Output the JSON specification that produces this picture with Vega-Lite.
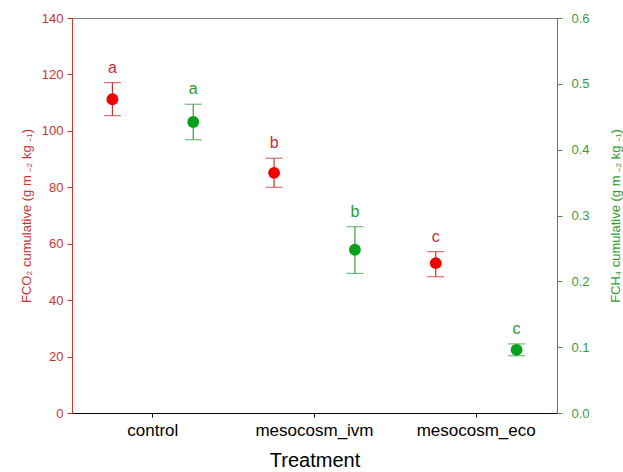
{
  "$schema": "https://vega.github.io/schema/vega-lite/v6.json",
  "width": 485,
  "height": 395,
  "autosize": {"type": "none"},
  "padding": {"left": 72, "top": 18, "right": 66, "bottom": 59},
  "config": {"view": {"stroke": "#808080", "strokeWidth": 1}, "font": "Liberation Sans"},
  "data": {"values": [
    {"treatment": "control", "gas": "CO2", "mean": 111.2, "lo": 105.4, "hi": 117.1, "letter": "a"},
    {"treatment": "mesocosm_ivm", "gas": "CO2", "mean": 85.1, "lo": 80.0, "hi": 90.3, "letter": "b"},
    {"treatment": "mesocosm_eco", "gas": "CO2", "mean": 53.1, "lo": 48.3, "hi": 57.2, "letter": "c"},
    {"treatment": "control", "gas": "CH4", "mean": 0.442, "lo": 0.415, "hi": 0.469, "letter": "a"},
    {"treatment": "mesocosm_ivm", "gas": "CH4", "mean": 0.248, "lo": 0.212, "hi": 0.283, "letter": "b"},
    {"treatment": "mesocosm_eco", "gas": "CH4", "mean": 0.096, "lo": 0.087, "hi": 0.105, "letter": "c"}
  ]},
  "encoding": {
    "x": {"field": "treatment", "type": "nominal", "sort": ["control", "mesocosm_ivm", "mesocosm_eco"],
      "scale": {"paddingInner": 0, "paddingOuter": 0},
      "axis": {"title": "Treatment", "labelAngle": 0, "domainColor": "#000", "tickColor": "#000", "tickSize": 4,
        "labelFontSize": 17, "labelColor": "#000", "labelPadding": 5, "titleFontSize": 20, "titleFontWeight": "normal",
        "titleColor": "#000", "titlePadding": 12, "grid": false}},
    "xOffset": {"field": "gas", "type": "nominal", "sort": ["CO2", "CH4"], "scale": {"type": "point", "padding": 0.5}}
  },
  "layer": [
    {
      "transform": [{"filter": "datum.gas === 'CO2'"}],
      "layer": [
        {"mark": {"type": "rule", "color": "#cc3333", "strokeWidth": 1.2},
          "encoding": {
            "y": {"field": "lo", "type": "quantitative", "scale": {"domain": [0, 140], "nice": false},
              "title": "FCO₂ cumulative (g m ₋₂ kg ₋₁)",
              "axis": {"orient": "left", "values": [0, 20, 40, 60, 80, 100, 120, 140], "grid": false, "domainColor": "#cc3333", "tickColor": "#cc3333", "tickSize": 5, "labelColor": "#cc3333", "labelFontSize": 13, "labelPadding": 4, "titleColor": "#cc3333", "titleFontSize": 13, "titleFontWeight": "normal", "titlePadding": 8}},
            "y2": {"field": "hi"}}},
        {"mark": {"type": "tick", "color": "#cc3333", "size": 17, "thickness": 1.2},
          "encoding": {"y": {"field": "lo", "type": "quantitative", "title": "FCO₂ cumulative (g m ₋₂ kg ₋₁)"}}},
        {"mark": {"type": "tick", "color": "#cc3333", "size": 17, "thickness": 1.2},
          "encoding": {"y": {"field": "hi", "type": "quantitative", "title": "FCO₂ cumulative (g m ₋₂ kg ₋₁)"}}},
        {"mark": {"type": "point", "filled": true, "color": "#f20000", "size": 140, "opacity": 1},
          "encoding": {"y": {"field": "mean", "type": "quantitative", "title": "FCO₂ cumulative (g m ₋₂ kg ₋₁)"}}},
        {"mark": {"type": "text", "color": "#cc2a3a", "fontSize": 16, "dy": -10, "baseline": "alphabetic"},
          "encoding": {"y": {"field": "hi", "type": "quantitative", "title": "FCO₂ cumulative (g m ₋₂ kg ₋₁)"}, "text": {"field": "letter"}}}
      ]
    },
    {
      "transform": [{"filter": "datum.gas === 'CH4'"}],
      "layer": [
        {"mark": {"type": "rule", "color": "#3c9a3c", "strokeWidth": 1.2},
          "encoding": {
            "y": {"field": "lo", "type": "quantitative", "scale": {"domain": [0, 0.6], "nice": false},
              "title": "FCH₄ cumulative (g m ₋₂ kg ₋₁)",
              "axis": {"orient": "right", "values": [0, 0.1, 0.2, 0.3, 0.4, 0.5, 0.6], "format": ".1f", "grid": false, "domainColor": "#3c9a3c", "tickColor": "#3c9a3c", "tickSize": 5, "labelColor": "#3c9a3c", "labelFontSize": 13, "labelPadding": 9, "titleColor": "#2e9a2e", "titleFontSize": 13, "titleFontWeight": "normal", "titleAngle": 270, "titleX": 58, "titleBaseline": "middle"}},
            "y2": {"field": "hi"}}},
        {"mark": {"type": "tick", "color": "#3c9a3c", "size": 17, "thickness": 1.2},
          "encoding": {"y": {"field": "lo", "type": "quantitative", "title": "FCH₄ cumulative (g m ₋₂ kg ₋₁)"}}},
        {"mark": {"type": "tick", "color": "#3c9a3c", "size": 17, "thickness": 1.2},
          "encoding": {"y": {"field": "hi", "type": "quantitative", "title": "FCH₄ cumulative (g m ₋₂ kg ₋₁)"}}},
        {"mark": {"type": "point", "filled": true, "color": "#07a01a", "size": 140, "opacity": 1},
          "encoding": {"y": {"field": "mean", "type": "quantitative", "title": "FCH₄ cumulative (g m ₋₂ kg ₋₁)"}}},
        {"mark": {"type": "text", "color": "#2e9a2e", "fontSize": 16, "dy": -10, "baseline": "alphabetic"},
          "encoding": {"y": {"field": "hi", "type": "quantitative", "title": "FCH₄ cumulative (g m ₋₂ kg ₋₁)"}, "text": {"field": "letter"}}}
      ]
    }
  ],
  "resolve": {"scale": {"y": "independent"}}
}
